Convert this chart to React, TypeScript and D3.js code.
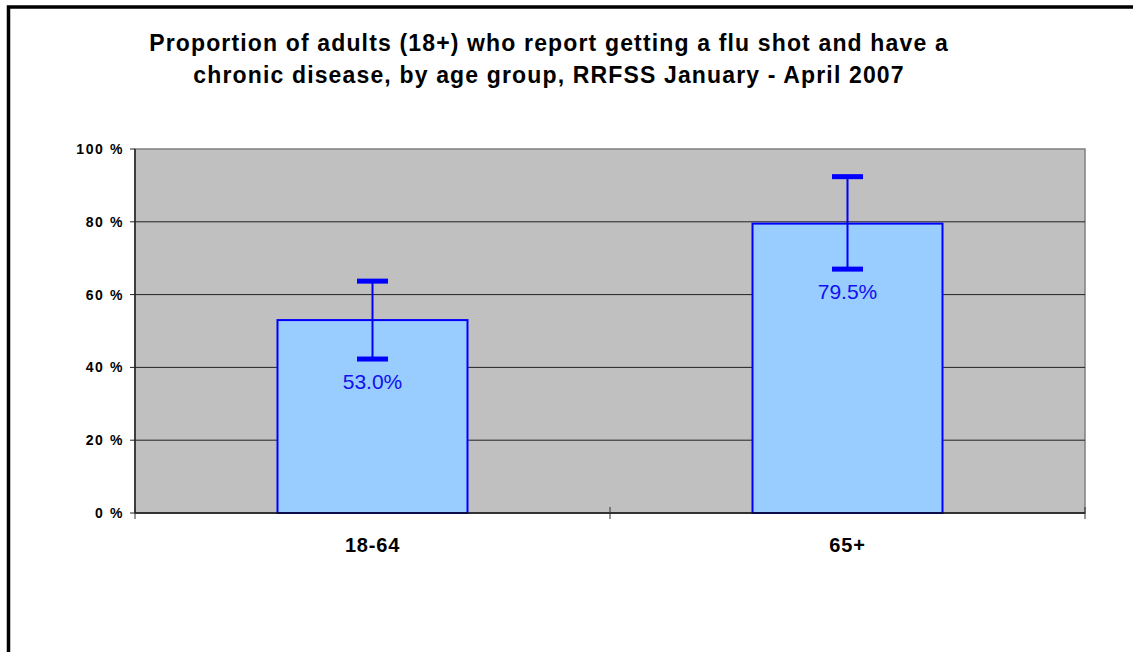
import * as d3 from 'd3';

const categories = ['18-64', '65+'];
const values = [53.0, 79.5];
const lowerCI = [42.3, 67.0];
const upperCI = [63.7, 92.4];
const yTicks = [0, 20, 40, 60, 80, 100];
const valueLabels = ['53.0%', '79.5%'];
const titleLines = [
    'Proportion of adults (18+) who report getting a flu shot and have a',
    'chronic disease, by age group, RRFSS January - April 2007',
];

export default function App() {
    const width = 1133;
    const height = 652;
    const plot = { left: 135, top: 149, right: 1085, bottom: 513 };

    const x = d3.scaleBand()
        .domain(categories)
        .range([plot.left, plot.right])
        .paddingInner(0.6)
        .paddingOuter(0.3);

    const y = d3.scaleLinear()
        .domain([0, 100])
        .range([plot.bottom, plot.top]);

    const font = 'Arial, "Liberation Sans", Helvetica, sans-serif';
    const capW = 31;

    // category boundary ticks on the x axis
    const step = (plot.right - plot.left) / categories.length;
    const xTickPos = d3.range(categories.length + 1).map(i => plot.left + i * step);

    return (
        <svg width={width} height={height} style={{ position: 'absolute', left: 0, top: 0 }}>
            <rect x={0} y={0} width={width} height={height} fill="#fff" />
            <rect x={8.5} y={7} width={1300} height={800} fill="none" stroke="#000" strokeWidth={3.5} />

            {titleLines.map((t, i) => (
                <text key={i} x={549} y={51 + i * 32} textAnchor="middle" fontFamily={font}
                    fontWeight="bold" fontSize={23} letterSpacing={1.15} fill="#000">{t}</text>
            ))}

            {/* plot area */}
            <rect x={plot.left} y={plot.top} width={plot.right - plot.left} height={plot.bottom - plot.top}
                fill="#C0C0C0" stroke="#808080" strokeWidth={1.5} />

            {yTicks.filter(t => t > 0 && t < 100).map(t => (
                <line key={t} x1={plot.left} x2={plot.right} y1={y(t)} y2={y(t)} stroke="#222" strokeWidth={1} />
            ))}

            {/* y axis */}
            <line x1={plot.left} x2={plot.left} y1={plot.top} y2={plot.bottom} stroke="#222" strokeWidth={1.5} />
            {yTicks.map(t => (
                <g key={t}>
                    <line x1={plot.left - 5} x2={plot.left} y1={y(t)} y2={y(t)} stroke="#222" strokeWidth={1} />
                    <text x={plot.left - 11} y={y(t) + 5} textAnchor="end" fontFamily={font}
                        fontWeight="bold" fontSize={14} letterSpacing={1.6} fill="#000">{`${t} %`}</text>
                </g>
            ))}

            {/* bars */}
            {categories.map((c, i) => (
                <rect key={c} x={x(c)!} y={y(values[i])} width={x.bandwidth()}
                    height={plot.bottom - y(values[i])} fill="#99CCFF" stroke="#0000FF" strokeWidth={2} />
            ))}

            {/* x axis */}
            <line x1={plot.left} x2={plot.right} y1={plot.bottom} y2={plot.bottom} stroke="#111" strokeWidth={1.5} />
            {xTickPos.map((p, i) => (
                <line key={i} x1={p} x2={p} y1={plot.bottom - 6} y2={plot.bottom + 6} stroke="#333" strokeWidth={1} />
            ))}
            {categories.map(c => (
                <text key={c} x={x(c)! + x.bandwidth() / 2} y={552} textAnchor="middle" fontFamily={font}
                    fontWeight="bold" fontSize={20} letterSpacing={0.8} fill="#000">{c}</text>
            ))}

            {/* error bars */}
            {categories.map((c, i) => {
                const cx = x(c)! + x.bandwidth() / 2;
                return (
                    <g key={c}>
                        <line x1={cx} x2={cx} y1={y(upperCI[i])} y2={y(lowerCI[i])} stroke="#0000FF" strokeWidth={2} />
                        <line x1={cx - capW / 2} x2={cx + capW / 2} y1={y(upperCI[i])} y2={y(upperCI[i])}
                            stroke="#0000FF" strokeWidth={5} />
                        <line x1={cx - capW / 2} x2={cx + capW / 2} y1={y(lowerCI[i])} y2={y(lowerCI[i])}
                            stroke="#0000FF" strokeWidth={5} />
                    </g>
                );
            })}

            {/* value labels */}
            {categories.map((c, i) => (
                <text key={c} x={x(c)! + x.bandwidth() / 2} y={y(lowerCI[i]) + 30} textAnchor="middle"
                    fontFamily={font} fontSize={21} fill="#1010F0">{valueLabels[i]}</text>
            ))}
        </svg>
    );
}
